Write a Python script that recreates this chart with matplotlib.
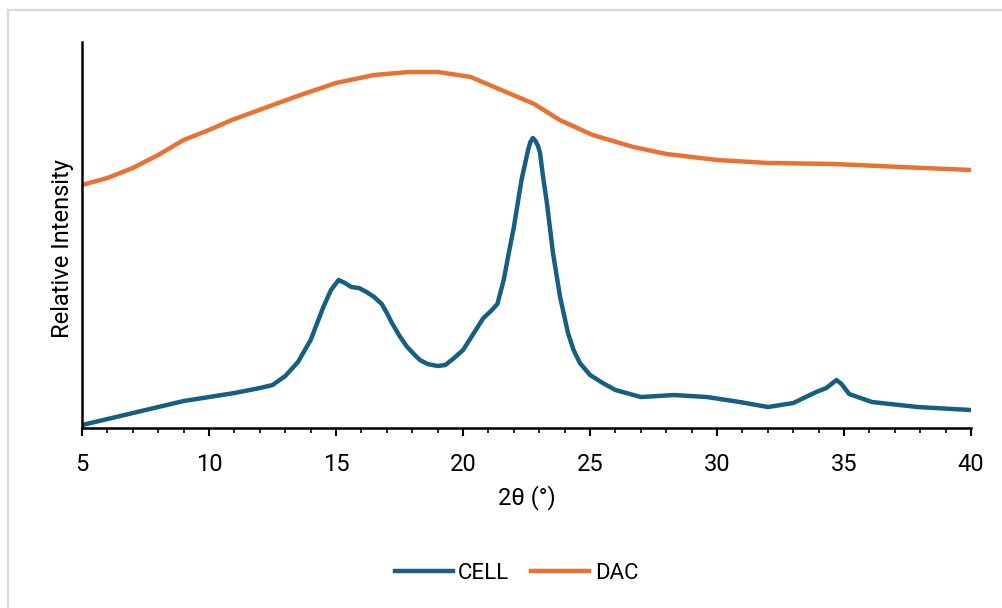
import matplotlib.pyplot as plt
from matplotlib.lines import Line2D
from matplotlib.ticker import MultipleLocator

plt.rcParams['font.family'] = ['Roboto', 'DejaVu Sans']

# XRD patterns (relative intensity, arbitrary units)
cell_2theta = [5.0, 6.0, 7.0, 8.0, 9.0, 10.0, 11.0, 12.0, 12.5, 13.0, 13.5, 14.0, 14.5,
               14.8, 15.1, 15.35, 15.6, 15.9, 16.2, 16.5, 16.8, 17.0, 17.2, 17.5, 17.8,
               18.1, 18.3, 18.6, 19.0, 19.3, 19.6, 20.0, 20.5, 20.8, 21.1, 21.35, 21.6,
               21.8, 22.0, 22.3, 22.56, 22.65, 22.75, 22.85, 22.95, 23.03, 23.15, 23.3,
               23.54, 23.82, 24.13, 24.35, 24.6, 25.0, 25.5, 26.0, 27.0, 28.3, 29.6,
               30.9, 32.0, 33.0, 33.9, 34.3, 34.7, 34.9, 35.2, 36.1, 37.9, 40.0]
cell_int = [3, 9, 15, 21, 27, 31, 35, 40, 43, 52, 66, 88, 121,
            138, 148, 145, 141, 140, 136, 131, 124, 115, 105, 92, 81,
            73, 68, 64, 62, 63, 69, 78, 98, 110, 117, 124, 148,
            175, 201, 248, 278, 286, 290, 287, 282, 275, 251, 225,
            175, 131, 95, 78, 65, 53, 45, 38, 31, 33, 31,
            26, 21, 25, 36, 40, 48, 44, 34, 26, 21, 18]

dac_2theta = [5.0, 6.0, 7.0, 8.0, 9.0, 10.0, 10.9, 12.3, 13.6, 15.0, 16.5, 17.9, 19.0,
              20.3, 21.5, 22.8, 23.8, 25.1, 26.7, 28.0, 30.0, 32.0, 34.6, 37.2, 40.0]
dac_int = [243, 250, 260, 273, 288, 298, 308, 321, 333, 345, 353, 356, 356,
           351, 338, 324, 308, 293, 281, 274, 268, 265, 264, 261, 258]

series_names = ['CELL', 'DAC']
series_colors = ['#156082', '#E97132']

fig = plt.figure(figsize=(10.03, 6.08), dpi=100)
ax = fig.add_axes([0.0818, 0.296, 0.8864, 0.635])

ax.plot(cell_2theta, cell_int, color=series_colors[0], lw=3.2, label=series_names[0],
        solid_joinstyle='round')
ax.plot(dac_2theta, dac_int, color=series_colors[1], lw=3.2, label=series_names[1],
        solid_joinstyle='round')

ax.set_xlim(5, 40)
ax.set_ylim(0, 386)
ax.xaxis.set_major_locator(MultipleLocator(5))
ax.xaxis.set_minor_locator(MultipleLocator(1))
ax.set_yticks([])

for side in ['top', 'right']:
    ax.spines[side].set_visible(False)
for side in ['left', 'bottom']:
    ax.spines[side].set_linewidth(1.8)
    ax.spines[side].set_color('black')

ax.tick_params(axis='x', which='major', direction='out', length=6, width=1.5,
               labelsize=17, pad=12, colors='black')
ax.tick_params(axis='x', which='minor', direction='out', length=3.5, width=1.2)

ax.set_xlabel('2θ (°)', fontsize=17)
ax.set_ylabel('Relative Intensity', fontsize=17)
ax.xaxis.set_label_coords(0.5, -0.148)
ax.yaxis.set_label_coords(-0.0096, 0.464)

fig.legend(loc='center', bbox_to_anchor=(0.515, 0.057), ncol=2, frameon=False,
           fontsize=16, handlelength=2.6, handletextpad=0.25, columnspacing=1.0)

# light grey chart border (only top and left edges are visible in the crop)
fig.add_artist(Line2D([0.008, 1.0], [0.9835, 0.9835], color='#d9d9d9', lw=1.6,
                      transform=fig.transFigure))
fig.add_artist(Line2D([0.008, 0.008], [0.0, 0.9835], color='#d9d9d9', lw=1.6,
                      transform=fig.transFigure))

fig.savefig('out.png', dpi=100)
